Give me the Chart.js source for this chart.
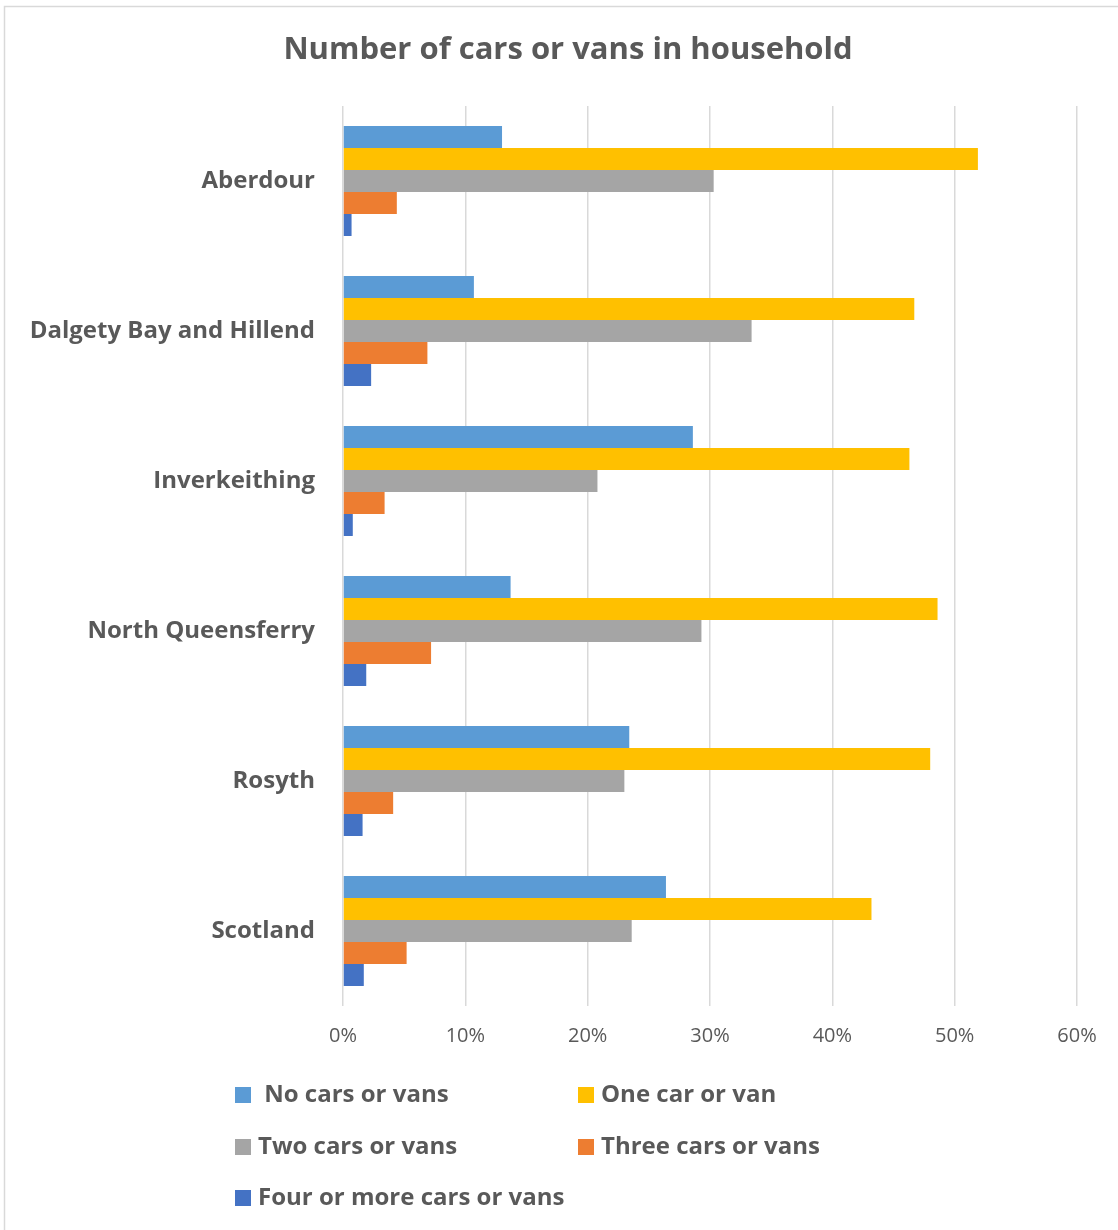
<!DOCTYPE html>
<html>
<head>
<meta charset="utf-8">
<script src="https://cdn.jsdelivr.net/npm/chart.js@4.4.0/dist/chart.umd.min.js"></script>
<style>
  html, body { margin: 0; padding: 0; background: #fff; }
  #wrap { width: 1118px; height: 1230px; position: relative; }
</style>
</head>
<body>
<div id="wrap"><canvas id="carsChart" width="1118" height="1230"></canvas></div>
<script>
const chartTitle = 'Number of cars or vans in household';
const areas = ['Aberdour', 'Dalgety Bay and Hillend', 'Inverkeithing', 'North Queensferry', 'Rosyth', 'Scotland'];

const noCars = [13.0, 10.7, 28.6, 13.7, 23.4, 26.4];
const oneCar = [51.9, 46.7, 46.3, 48.6, 48.0, 43.2];
const twoCars = [30.3, 33.4, 20.8, 29.3, 23.0, 23.6];
const threeCars = [4.4, 6.9, 3.4, 7.2, 4.1, 5.2];
const fourCars = [0.7, 2.3, 0.8, 1.9, 1.6, 1.7];

const seriesNames = [' No cars or vans', 'One car or van', 'Two cars or vans', 'Three cars or vans', 'Four or more cars or vans'];
const seriesColors = ['#5B9BD5', '#FFC000', '#A5A5A5', '#ED7D31', '#4472C4'];

const textColor = '#595959';
const fontFamily = '"Open Sans", "Liberation Sans", sans-serif';

const allSeries = [noCars, oneCar, twoCars, threeCars, fourCars];

const datasets = allSeries.map((vals, i) => {
    return {
        label: seriesNames[i],
        data: vals,
        backgroundColor: seriesColors[i],
        borderWidth: 0,
        barPercentage: 1.0,
        categoryPercentage: 0.733
    };
});

// frame round the whole chart + title
const framePlugin = {
    id: 'frame',
    beforeDraw: (chart) => {
        const ctx = chart.ctx;
        ctx.save();
        ctx.fillStyle = '#fff';
        ctx.fillRect(0, 0, chart.width, chart.height);
        ctx.strokeStyle = '#d9d9d9';
        ctx.lineWidth = 1.5;
        ctx.strokeRect(4.5, 6.5, chart.width, chart.height);

        ctx.font = 'bold 31px ' + fontFamily;
        ctx.fillStyle = textColor;
        ctx.textAlign = 'center';
        ctx.textBaseline = 'middle';
        ctx.fillText(chartTitle, 568, 50);
        ctx.restore();
    }
};

// two column legend under the axis
const legendPlugin = {
    id: 'twoColLegend',
    afterDraw: (chart) => {
        const ctx = chart.ctx;
        const cols = [235, 578];
        const rows = [1095, 1147, 1198];
        ctx.save();
        ctx.font = 'bold 24px ' + fontFamily;
        ctx.textBaseline = 'middle';
        chart.data.datasets.forEach((ds, i) => {
            const x = cols[i % 2];
            const y = rows[Math.floor(i / 2)];
            ctx.fillStyle = ds.backgroundColor;
            ctx.fillRect(x, y - 8, 16, 16);
            ctx.fillStyle = textColor;
            ctx.fillText(ds.label, x + 23, y);
        });
        ctx.restore();
    }
};

const chart = new Chart(document.getElementById('carsChart'), {
    type: 'bar',
    data: {
        labels: areas,
        datasets: datasets
    },
    options: {
        indexAxis: 'y',
        responsive: false,
        animation: false,
        devicePixelRatio: 1,
        layout: {
            padding: { left: 0, right: 41, top: 106, bottom: 174 }
        },
        plugins: {
            legend: { display: false },
            tooltip: { enabled: false },
            title: { display: false }
        },
        scales: {
            x: {
                min: 0,
                max: 60,
                ticks: {
                    stepSize: 10,
                    color: textColor,
                    font: { family: fontFamily, size: 20 },
                    padding: 18,
                    callback: (v) => v + '%'
                },
                grid: {
                    color: '#d9d9d9',
                    lineWidth: 1.5,
                    drawTicks: false
                },
                border: { display: false },
                afterFit: (scale) => { scale.height = 50; }
            },
            y: {
                ticks: {
                    color: textColor,
                    font: { family: fontFamily, size: 24, weight: 'bold' },
                    padding: 28
                },
                grid: { display: false, drawTicks: false },
                border: { display: false },
                afterFit: (scale) => { scale.width = 343; }
            }
        }
    },
    plugins: [framePlugin, legendPlugin]
});
</script>
</body>
</html>
